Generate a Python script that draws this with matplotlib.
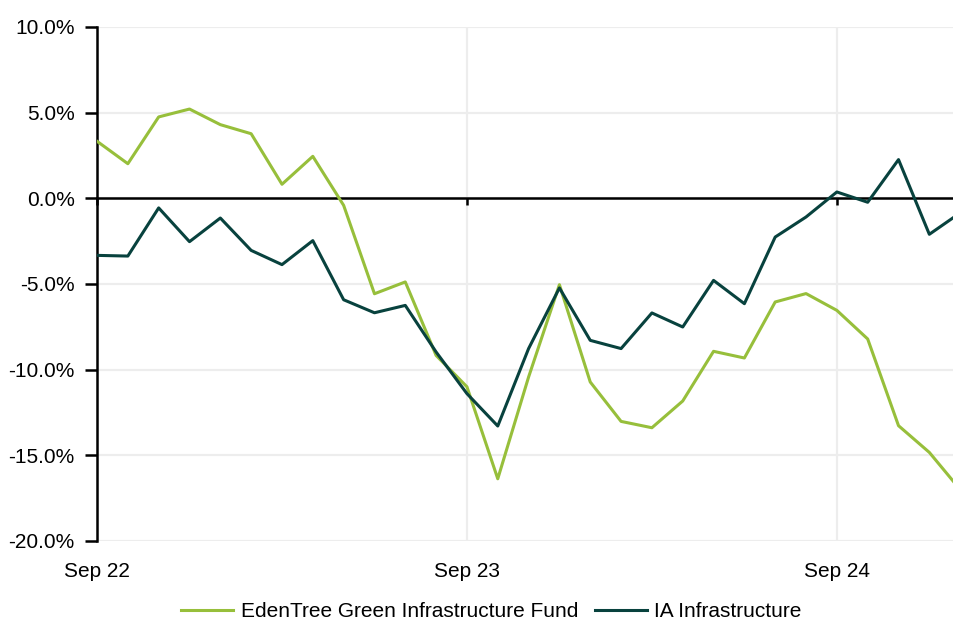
import matplotlib.pyplot as plt
from matplotlib.ticker import FuncFormatter

plt.rcParams['font.family'] = ['Liberation Sans', 'DejaVu Sans']

# monthly points, Sep 22 onwards (index = months since Sep 22)
months = list(range(29))
fund = [3.33, 2.02, 4.75, 5.21, 4.30, 3.77, 0.82, 2.45, -0.41, -5.57,
        -4.88, -9.17, -11.0, -16.37, -10.43, -5.04, -10.72, -13.02, -13.39, -11.83,
        -8.93, -9.32, -6.05, -5.56, -6.54, -8.21, -13.27, -14.83, -17.0]
sector = [-3.33, -3.37, -0.56, -2.53, -1.15, -3.04, -3.87, -2.47, -5.92, -6.68,
          -6.25, -8.97, -11.4, -13.29, -8.77, -5.23, -8.29, -8.77, -6.69, -7.51,
          -4.79, -6.15, -2.26, -1.09, 0.37, -0.23, 2.26, -2.10, -0.85]
series_names = ['EdenTree Green Infrastructure Fund', 'IA Infrastructure']
tick_pos = [0, 12, 24]
tick_labels = ['Sep 22', 'Sep 23', 'Sep 24']

green = '#97BF3B'
dark = '#08423E'

fig = plt.figure(figsize=(9.54, 6.26), dpi=100)
ax = fig.add_axes([0.1017, 0.1358, 0.8983, 0.8211])

ax.plot(months, fund, color=green, lw=2.2, label=series_names[0], zorder=3)
ax.plot(months, sector, color=dark, lw=2.2, label=series_names[1], zorder=4)

ax.set_xlim(0, 27.8)
ax.set_ylim(-20, 10)
ax.set_yticks(range(-20, 11, 5))
ax.yaxis.set_major_formatter(FuncFormatter(lambda v, p: f'{v:.1f}%'))

# grid
ax.grid(True, color='#EDEDED', lw=1.6, zorder=0)
ax.set_axisbelow(True)

# spines: left axis black, x axis sits on zero
for s in ['top', 'right']:
    ax.spines[s].set_visible(False)
ax.spines['left'].set_linewidth(1.8)
ax.spines['bottom'].set_position(('data', 0))
ax.spines['bottom'].set_linewidth(1.8)
ax.spines['bottom'].set_zorder(2)

ax.set_xticks(tick_pos)
ax.tick_params(axis='x', direction='out', length=5, width=1.8, labelbottom=False)
ax.tick_params(axis='y', direction='out', length=9, width=1.8, pad=7, labelsize=15)

# x labels along the bottom of the plot
sec = ax.secondary_xaxis(0)
sec.set_xticks(tick_pos, labels=tick_labels)
sec.spines['bottom'].set_visible(False)
sec.tick_params(length=0, pad=15, labelsize=15)

fig.legend(loc='lower center', bbox_to_anchor=(0.515, -0.022), ncol=2, frameon=False,
           fontsize=15, handlelength=2.5, handletextpad=0.35, columnspacing=0.8)

fig.savefig('out.png', dpi=100)
